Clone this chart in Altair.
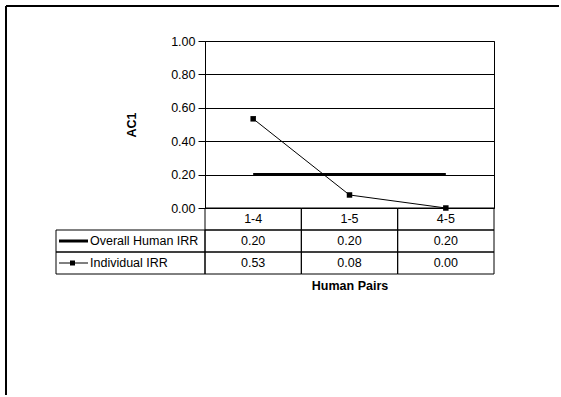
import altair as alt
import pandas as pd

# ---- data ----
categories = ["1-4", "1-5", "4-5"]
series_names = ["Overall Human IRR", "Individual IRR"]
overall_irr = [0.20, 0.20, 0.20]
individual_irr = [0.534, 0.078, 0.00]
y_ticks = [0.0, 0.2, 0.4, 0.6, 0.8, 1.0]
row_order = ["pair"] + series_names

FONT = "Liberation Sans"
FS = 12.5

lines_df = pd.DataFrame({
    "pair": categories * 2,
    "series": [series_names[0]] * len(categories) + [series_names[1]] * len(categories),
    "value": overall_irr + individual_irr,
})

table_rows = [{"pair": c, "row": "pair", "label": c} for c in categories]
for name, vals in zip(series_names, [overall_irr, individual_irr]):
    for c, v in zip(categories, vals):
        table_rows.append({"pair": c, "row": name, "label": f"{v:.2f}"})
table_df = pd.DataFrame(table_rows)
legend_df = pd.DataFrame({"row": series_names, "label": series_names})

# ---- main plot ----
x_pt = alt.X("pair:N", sort=categories,
             scale=alt.Scale(type="point", padding=0.5, domain=categories), axis=None)
y_q = alt.Y("value:Q",
            scale=alt.Scale(domain=[0, 1], nice=False, zero=True),
            axis=alt.Axis(values=y_ticks, format=".2f", title="AC1", grid=True,
                          gridColor="black", gridWidth=1, gridOpacity=1,
                          domainColor="black", tickColor="black", tickSize=7,
                          labelPadding=3, labelFontSize=FS, labelColor="black",
                          labelFont=FONT, titleFont=FONT, titleFontSize=FS,
                          titleFontWeight="bold", titleColor="black", titlePadding=32))

overall_line = alt.Chart(lines_df).transform_filter(
    alt.datum.series == series_names[0]
).mark_line(color="black", strokeWidth=3).encode(x=x_pt, y=y_q)

indiv_line = alt.Chart(lines_df).transform_filter(
    alt.datum.series == series_names[1]
).mark_line(
    color="black", strokeWidth=1,
    point=alt.OverlayMarkDef(shape="square", size=30, filled=True, color="black", opacity=1),
).encode(x=x_pt, y=y_q)

plot = alt.layer(overall_line, indiv_line).properties(
    width=289, height=167,
    view=alt.ViewBackground(stroke="black", strokeWidth=1),
)

# ---- data table below the plot ----
x_band = alt.X("pair:N", sort=categories,
               scale=alt.Scale(type="band", domain=categories, paddingInner=0, paddingOuter=0),
               axis=alt.Axis(title="Human Pairs", labels=False, ticks=False, domain=False,
                             grid=False, titlePadding=5, titleFont=FONT, titleFontSize=FS,
                             titleFontWeight="bold", titleColor="black"))
y_row = alt.Y("row:N", sort=row_order,
              scale=alt.Scale(domain=row_order, paddingInner=0, paddingOuter=0), axis=None)

cells = alt.Chart(table_df).mark_rect(fill="transparent", stroke="black", strokeWidth=1).encode(
    x=x_band, y=y_row)
cell_text = alt.Chart(table_df).mark_text(font=FONT, fontSize=FS, color="black").encode(
    x=x_band, y=y_row, text="label:N")
values_panel = alt.layer(cells, cell_text).properties(width=289, height=66)

# ---- legend column of the table ----
leg_cells = alt.Chart(legend_df).mark_rect(fill="transparent", stroke="black", strokeWidth=1).encode(
    y=y_row)
leg_text = alt.Chart(legend_df).mark_text(font=FONT, fontSize=FS, color="black", align="left").encode(
    y=y_row, x=alt.value(34), text="label:N")
leg_thick = alt.Chart(legend_df).transform_filter(
    alt.datum.row == series_names[0]
).mark_point(shape="M-1,0L1,0", size=841, strokeWidth=3, filled=False, color="black", opacity=1).encode(
    y=y_row, x=alt.value(17.5))
leg_thin = alt.Chart(legend_df).transform_filter(
    alt.datum.row == series_names[1]
).mark_point(shape="M-1,0L1,0", size=841, strokeWidth=1, filled=False, color="black", opacity=1).encode(
    y=y_row, x=alt.value(17.5))
leg_sq = alt.Chart(legend_df).transform_filter(
    alt.datum.row == series_names[1]
).mark_point(shape="square", size=25, filled=True, color="black", opacity=1).encode(
    y=y_row, x=alt.value(16.5))
legend_panel = alt.layer(leg_cells, leg_text, leg_thick, leg_thin, leg_sq).properties(width=149, height=66)

# ---- spacer holding the outer chart-area frame ----
one = alt.Data(values=[{"k": 1}])
frame_top = alt.Chart(one).mark_rule(color="black", strokeWidth=2).encode(
    x=alt.value(-50), x2=alt.value(503), y=alt.value(-35))
frame_left = alt.Chart(one).mark_rule(color="black", strokeWidth=2).encode(
    x=alt.value(-50), y=alt.value(-35), y2=alt.value(354))
spacer = alt.layer(frame_top, frame_left).properties(width=149, height=167)

chart = alt.concat(
    spacer, plot, legend_panel, values_panel,
    columns=2, spacing=0, bounds="flush", align="each",
).properties(
    padding={"left": 4, "top": 4, "right": 0, "bottom": 0},
    background="white",
).configure(
    font=FONT,
    view=alt.ViewConfig(stroke="transparent"),
)

chart.save("out.html", embed_options={"renderer": "svg", "actions": False})
